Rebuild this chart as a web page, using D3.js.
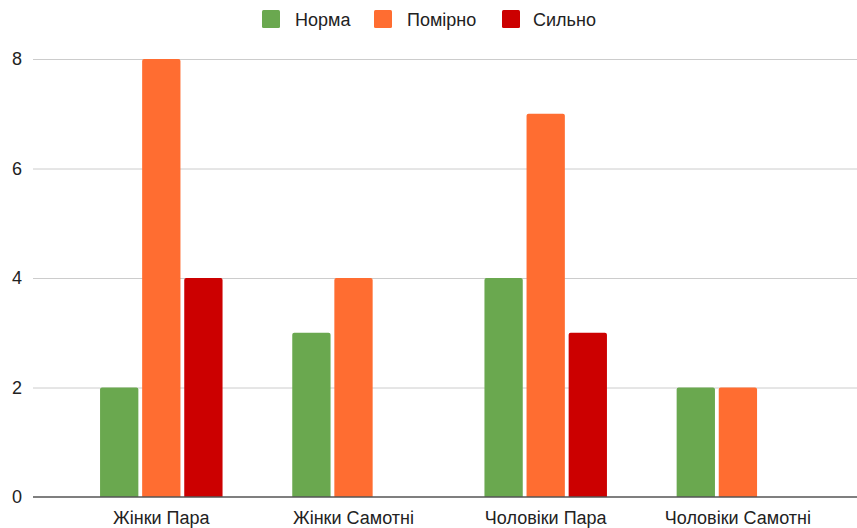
<!DOCTYPE html>
<html>
<head>
<meta charset="utf-8">
<script src="https://cdn.jsdelivr.net/npm/d3@7"></script>
<style>
  body { margin: 0; background: #fff; }
  text { font-family: "Liberation Sans", Arial, sans-serif; fill: #222; }
</style>
</head>
<body>
<div id="chart"></div>
<script>
var width = 857;
var height = 528;

// data
var categories = ["Жінки Пара", "Жінки Самотні", "Чоловіки Пара", "Чоловіки Самотні"];
var series = ["Норма", "Помірно", "Сильно"];
var colors = ["#6aa84f", "#ff6d31", "#cc0000"];
var norma   = [2, 3, 4, 2];
var pomirno = [8, 4, 7, 2];
var sylno   = [4, 0, 3, 0];
var yTicks = [0, 2, 4, 6, 8];

var values = [norma, pomirno, sylno];

var svg = d3.select("#chart")
    .append("svg")
    .attr("width", width)
    .attr("height", height);

var xScale = d3.scaleBand().domain(categories).range([65.2, 834]);
var x1 = d3.scaleBand().domain(series).range([0, 122.5]).paddingInner(0.09);
var yScale = d3.scaleLinear().domain([0, 8]).range([497, 59]);

// gridlines
svg.append("g")
    .selectAll("line")
    .data(yTicks.filter(function(d) { return d > 0; }))
    .enter()
    .append("line")
    .attr("x1", 33)
    .attr("x2", width)
    .attr("y1", function(d) { return yScale(d) + 0.5; })
    .attr("y2", function(d) { return yScale(d) + 0.5; })
    .attr("stroke", "#cccccc")
    .attr("stroke-width", 1);

// y labels
svg.append("g")
    .selectAll("text")
    .data(yTicks)
    .enter()
    .append("text")
    .attr("x", 22)
    .attr("y", function(d) { return yScale(d); })
    .attr("dy", "0.35em")
    .style("text-anchor", "end")
    .style("font-size", "18px")
    .text(function(d) { return d; });

// bars
var groups = svg.append("g")
    .selectAll("g")
    .data(categories)
    .enter()
    .append("g")
    .attr("transform", function(d) {
        return "translate(" + (xScale(d) + xScale.bandwidth() / 2 - 61.25) + ",0)";
    });

groups.selectAll("path")
    .data(function(c, ci) {
        return series.map(function(s, si) { return { s: s, si: si, v: values[si][ci] }; })
            .filter(function(d) { return d.v > 0; });
    })
    .enter()
    .append("path")
    .attr("fill", function(d) { return colors[d.si]; })
    .attr("d", function(d) {
        var x = x1(d.s), w = x1.bandwidth();
        var y = yScale(d.v), b = yScale(0), r = 2;
        return "M" + x + "," + b + "V" + (y + r) + "Q" + x + "," + y + " " + (x + r) + "," + y +
            "H" + (x + w - r) + "Q" + (x + w) + "," + y + " " + (x + w) + "," + (y + r) + "V" + b + "Z";
    });

// baseline
svg.append("line")
    .attr("x1", 33)
    .attr("x2", width)
    .attr("y1", yScale(0))
    .attr("y2", yScale(0))
    .attr("stroke", "#555555")
    .attr("stroke-width", 1.5);

// x labels
var xAxis = d3.axisBottom(xScale).tickSize(0).tickPadding(0);
var xg = svg.append("g")
    .attr("transform", "translate(0," + (yScale(0) + 27) + ")")
    .call(xAxis);
xg.select(".domain").remove();
xg.selectAll("text")
    .attr("dy", null)
    .attr("y", 0)
    .style("font-size", "18px")
    .style("font-family", "'Liberation Sans', Arial, sans-serif")
    .style("fill", "#222");

// legend
var legendX = [262, 374, 502];
var legend = svg.append("g")
    .selectAll("g")
    .data(series)
    .enter()
    .append("g")
    .attr("transform", function(d, i) { return "translate(" + legendX[i] + ",10)"; });

legend.append("rect")
    .attr("width", 18)
    .attr("height", 18)
    .attr("rx", 1.5)
    .attr("fill", function(d, i) { return colors[i]; });

legend.append("text")
    .attr("x", function(d, i) { return i == 2 ? 31 : 33; })
    .attr("y", 15.5)
    .style("font-size", "18px")
    .text(function(d) { return d; });
</script>
</body>
</html>
